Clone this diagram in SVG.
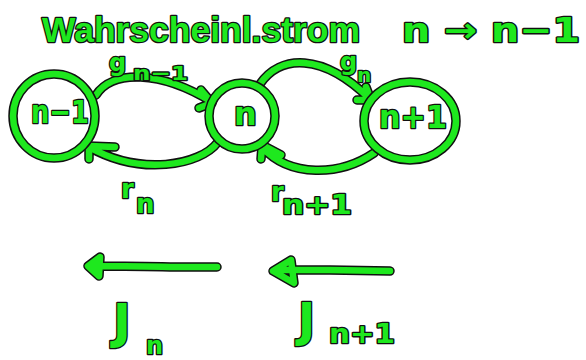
<svg xmlns="http://www.w3.org/2000/svg" xmlns:xlink="http://www.w3.org/1999/xlink" width="586" height="360" viewBox="0 0 586 360">
  <style>
    .ink-dark { fill: none; stroke: #111; stroke-width: 9.5; stroke-linecap: round; stroke-linejoin: round; }
    .ink { fill: none; stroke: #1ee81e; stroke-width: 6.5; stroke-linecap: round; stroke-linejoin: round; }
    .lbl { font-family: "DejaVu Sans", "Liberation Sans", sans-serif; font-weight: bold; fill: #1ee81e; stroke: #111; stroke-width: 2.6; paint-order: stroke; stroke-linejoin: round; }
    .head { font-family: "Liberation Sans", Arial, sans-serif; }
  </style>
  <defs>
    <!-- node outlines -->
    <ellipse id="c-nm1" cx="54" cy="116" rx="41" ry="42"/>
    <ellipse id="c-n" cx="242" cy="116" rx="33" ry="33"/>
    <ellipse id="c-np1" cx="410" cy="121" rx="46" ry="39"/>
    <!-- transition arcs with hand-drawn heads -->
    <path id="e-g1" d="M96,95 C112,70 160,70 212,102 M201,90 L212,103 L199,108"/>
    <path id="e-r1" d="M218,142 C200,166 140,176 89,147 M115,147 L89,146 L89,159"/>
    <path id="e-g2" d="M260,84 C280,55 322,52 370,99 M357,100 L371,100 L366,87"/>
    <path id="e-r2" d="M374,153 C340,176 290,178 262,147 M281,155 L262,145 L261,159"/>
    <!-- flux arrows -->
    <path id="e-j1" d="M217,267 L170,267 C140,266 112,266 90,266 M100,257 L88,266 L99,276 Z"/>
    <path id="e-j2" d="M390,271 L330,270 L277,270 M291,260 L273,271 L294,283 Z"/>
  </defs>

  <!-- heading -->
  <text class="lbl head" x="42" y="42" font-size="35" textLength="318" lengthAdjust="spacingAndGlyphs">Wahrscheinl.strom</text>
  <text class="lbl" x="402" y="42" font-size="34" textLength="178" lengthAdjust="spacingAndGlyphs">n → n−1</text>

  <g id="connectors">
    <use xlink:href="#e-g1" class="ink-dark"/>
    <use xlink:href="#e-r1" class="ink-dark"/>
    <use xlink:href="#e-g2" class="ink-dark"/>
    <use xlink:href="#e-r2" class="ink-dark"/>
    <use xlink:href="#e-j1" class="ink-dark"/>
    <use xlink:href="#e-j2" class="ink-dark"/>
    <use xlink:href="#e-g1" class="ink"/>
    <use xlink:href="#e-r1" class="ink"/>
    <use xlink:href="#e-g2" class="ink"/>
    <use xlink:href="#e-r2" class="ink"/>
    <use xlink:href="#e-j1" class="ink"/>
    <use xlink:href="#e-j2" class="ink"/>
    <!-- rates -->
    <text class="lbl" x="109" y="71" font-size="24">g</text>
    <text class="lbl" x="133" y="80" font-size="20" textLength="55" lengthAdjust="spacingAndGlyphs">n−1</text>
    <text class="lbl" x="340" y="70" font-size="24">g</text>
    <text class="lbl" x="357" y="82" font-size="20">n</text>
    <text class="lbl" x="121" y="198" font-size="26">r</text>
    <text class="lbl" x="136" y="213" font-size="26">n</text>
    <text class="lbl" x="271" y="201" font-size="26">r</text>
    <text class="lbl" x="282" y="214" font-size="26" textLength="70" lengthAdjust="spacingAndGlyphs">n+1</text>
    <!-- fluxes -->
    <text class="lbl" x="113" y="338" font-size="48">J</text>
    <text class="lbl" x="146" y="354" font-size="24">n</text>
    <text class="lbl" x="298" y="336" font-size="46">J</text>
    <text class="lbl" x="329" y="343" font-size="26" textLength="66" lengthAdjust="spacingAndGlyphs">n+1</text>
  </g>

  <g id="node-n-minus-1">
    <use xlink:href="#c-nm1" class="ink-dark"/>
    <use xlink:href="#c-nm1" class="ink"/>
    <text class="lbl" x="31" y="123" font-size="32" textLength="58" lengthAdjust="spacingAndGlyphs">n−1</text>
  </g>
  <g id="node-n">
    <use xlink:href="#c-n" class="ink-dark"/>
    <use xlink:href="#c-n" class="ink"/>
    <text class="lbl" x="234" y="125" font-size="32">n</text>
  </g>
  <g id="node-n-plus-1">
    <use xlink:href="#c-np1" class="ink-dark"/>
    <use xlink:href="#c-np1" class="ink"/>
    <text class="lbl" x="379" y="128" font-size="32" textLength="68" lengthAdjust="spacingAndGlyphs">n+1</text>
  </g>
</svg>
